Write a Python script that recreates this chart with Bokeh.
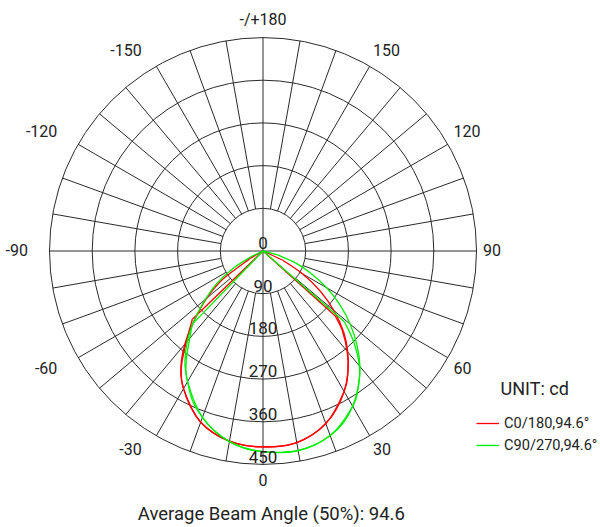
import numpy as np
from bokeh.plotting import figure
from bokeh.models import Range1d, Legend, LegendItem, Label, ColumnDataSource
from bokeh.core.properties import value
from bokeh.embed import file_html
from bokeh.resources import INLINE

# ---------------- data ----------------
ring_values = [90, 180, 270, 360, 450]
ring_labels = ["0", "90", "180", "270", "360", "450"]
angle_ticks = [0, 30, 60, 90, 120, 150, 180, -150, -120, -90, -60, -30]
angle_labels = ["0", "30", "60", "90", "120", "150", "-/+180", "-150", "-120", "-90", "-60", "-30"]

# C0/180 (red) - gamma angle (signed, 0 = down, + = right side), intensity cd
red_outer_ang = [-65, -60, -55, -50, -45, -40, -35, -30, -25, -20, -15, -10, -5, 0,
                 5, 10, 15, 20, 25, 30, 35, 40, 45, 50, 55, 60, 65, 70]
red_outer_cd = [0, 30, 103, 155, 203, 256, 302, 335, 362, 384, 398, 407, 412, 413,
                413, 410, 401, 387, 367, 342, 312, 278, 240, 195, 147, 96, 46, 0]
red_inner_ang = [-46, -46, -40, -35, -30, -20, -10, 0, 10, 20, 30, 35, 40, 45, 48, 48]
red_inner_cd = [0, 207, 252, 300, 335, 384, 407, 413, 410, 387, 342, 312, 276, 236, 205, 0]

# C90/270 (green)
green_outer_ang = [-70, -65, -60, -55, -50, -45, -40, -35, -30, -25, -20, -15, -10, -5, 0,
                   5, 10, 15, 20, 25, 30, 35, 40, 45, 50, 55, 60, 65, 70, 75, 80]
green_outer_cd = [0, 25, 70, 118, 158, 203, 248, 287, 318, 350, 373, 393, 408, 418, 423,
                  426, 427, 423, 414, 400, 378, 350, 318, 280, 240, 198, 155, 112, 72, 32, 0]
green_inner_ang = [-44, -44, -40, -35, -30, -20, -10, 0, 10, 20, 30, 35, 40, 45, 49, 49]
green_inner_cd = [0, 215, 240, 282, 318, 373, 408, 423, 427, 414, 378, 350, 316, 270, 228, 0]

series_names = ["C0/180,94.6°", "C90/270,94.6°"]
series_colors = ["#ff0000", "#00ee00"]
title_text = "Average Beam Angle (50%): 94.6"
unit_text = "UNIT: cd"

# ---------------- layout ----------------
W, H = 600, 527
R_OUT_PX = 213.5
s = R_OUT_PX / 450.0           # px per cd
cx, cy = 262.5, 250.5          # centre in frame px (from left / top)
FONT = "Roboto"
GRID = "#2a2a2a"
TXT = "#222222"

p = figure(width=W, height=H,
           x_range=Range1d(-cx / s, (W - cx) / s),
           y_range=Range1d(-(H - cy) / s, cy / s),
           output_backend="svg", toolbar_location=None, min_border=0,
           x_axis_location=None, y_axis_location=None, outline_line_color=None)
p.grid.visible = False
p.background_fill_color = "white"


def pol(ang_deg, r):
    a = np.radians(np.asarray(ang_deg, dtype=float))
    r = np.asarray(r, dtype=float)
    return r * np.sin(a), -r * np.cos(a)


def smooth_curve(ang, cd, color):
    x, y = pol(ang, cd)
    P = np.column_stack([x, y])
    n = len(P)
    cols = {k: [] for k in ("x0", "y0", "x1", "y1", "cx0", "cy0", "cx1", "cy1")}
    for i in range(n - 1):
        a, b = P[i], P[i + 1]
        if cd[i] == 0 or cd[i + 1] == 0 or ang[i] == ang[i + 1]:
            c0 = a + (b - a) / 3.0
            c1 = a + 2.0 * (b - a) / 3.0
        else:
            pm = P[i - 1] if (i > 0 and cd[i - 1] != 0 and ang[i - 1] != ang[i]) else a
            pp = P[i + 2] if (i + 2 < n and cd[i + 2] != 0 and ang[i + 2] != ang[i + 1]) else b
            c0 = a + (b - pm) / 6.0
            c1 = b - (pp - a) / 6.0
        for k, v in (("x0", a[0]), ("y0", a[1]), ("x1", b[0]), ("y1", b[1]),
                     ("cx0", c0[0]), ("cy0", c0[1]), ("cx1", c1[0]), ("cy1", c1[1])):
            cols[k].append(v)
    return p.bezier(source=ColumnDataSource(cols), x0="x0", y0="y0", x1="x1", y1="y1",
                    cx0="cx0", cy0="cy0", cx1="cx1", cy1="cy1",
                    line_color=color, line_width=1.3)


# rings
p.circle(x=[0] * len(ring_values), y=[0] * len(ring_values), radius=ring_values,
         fill_color=None, line_color=GRID, line_width=1)

# spokes
x0s, y0s, x1s, y1s = [], [], [], []
rmax = ring_values[-1]
for a in range(0, 360, 10):
    r0 = 0 if a % 90 == 0 else ring_values[0]
    xa, ya = pol([a, a], [r0, rmax])
    x0s.append(xa[0]); y0s.append(ya[0]); x1s.append(xa[1]); y1s.append(ya[1])
p.segment(x0=x0s, y0=y0s, x1=x1s, y1=y1s, line_color=GRID, line_width=1)

# curves
r_red = smooth_curve(red_outer_ang, red_outer_cd, series_colors[0])
smooth_curve(red_inner_ang, red_inner_cd, series_colors[0])
r_green = smooth_curve(green_outer_ang, green_outer_cd, series_colors[1])
smooth_curve(green_inner_ang, green_inner_cd, series_colors[1])

# ring labels (centred a little above each ring)
ring_r = [0] + ring_values
p.text(x=[0] * len(ring_r), y=[-r + 8.0 / s for r in ring_r], text=ring_labels,
       text_font=value(FONT), text_font_size="17px", text_color=TXT,
       text_align="center", text_baseline="middle")

# angle labels
lx, ly, la = [], [], []
for a in angle_ticks:
    rad = np.radians(a)
    if a in (0, 180, -180):
        rxp, align = 0.0, "center"
    elif a > 0:
        rxp, align = 220 * np.sin(rad), "left"
    else:
        rxp, align = (235 + 10 * np.cos(rad) ** 2) * np.sin(rad), "right"
    ryp = 230 + 9 * np.sin(rad) ** 2 * (1 if abs(a) in (60, 120) else 0)
    lx.append(rxp / s)
    ly.append((-ryp * np.cos(rad) + 1.5) / s)
    la.append(align)
src = ColumnDataSource(dict(x=lx, y=ly, t=angle_labels, al=la))
p.text(x="x", y="y", text="t", text_align="al", source=src,
       text_font=value(FONT), text_font_size="16px", text_color=TXT,
       text_baseline="middle")

# title & unit
p.add_layout(Label(x=270.8, y=14, x_units="screen", y_units="screen", text=title_text,
                   text_font=FONT, text_font_size="18.5px", text_color=TXT,
                   text_align="center", text_baseline="middle"))
p.add_layout(Label(x=500, y=139, x_units="screen", y_units="screen", text=unit_text,
                   text_font=FONT, text_font_size="18px", text_color=TXT,
                   text_align="left", text_baseline="middle"))

legend = Legend(items=[LegendItem(label=series_names[0], renderers=[r_red]),
                       LegendItem(label=series_names[1], renderers=[r_green])],
                location=(476, 72), padding=0, margin=0, spacing=2,
                glyph_width=23, glyph_height=20, label_height=20, label_standoff=5,
                label_text_font=FONT, label_text_font_size="14.6px", label_text_color=TXT,
                border_line_color=None, background_fill_alpha=0)
p.add_layout(legend)

open("out.html", "w").write(file_html(p, INLINE))
